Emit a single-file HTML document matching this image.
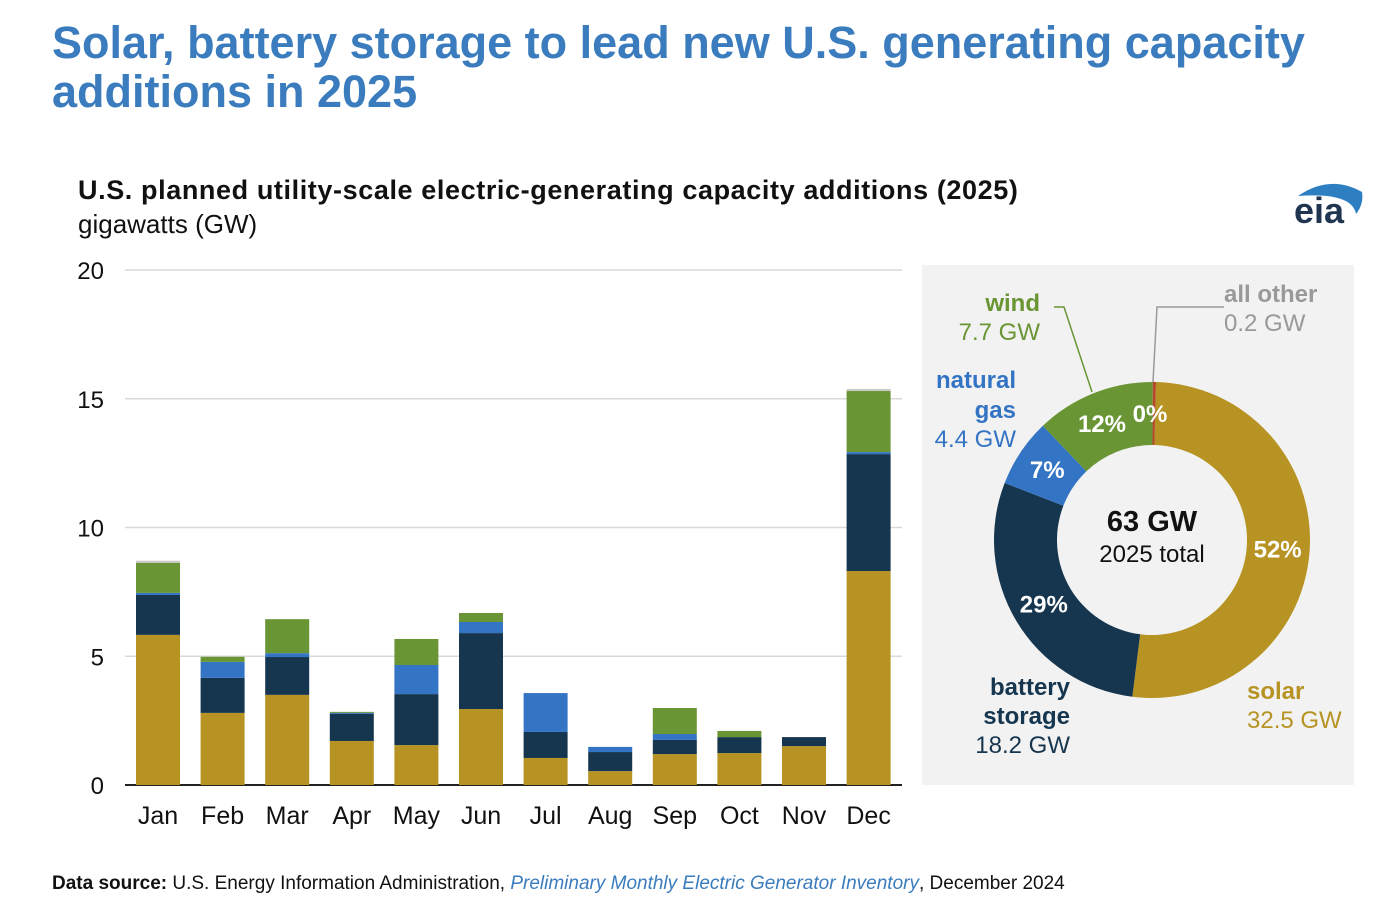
<!DOCTYPE html>
<html><head><meta charset="utf-8">
<style>
body{margin:0;width:1395px;height:917px;background:#fff;font-family:"Liberation Sans",sans-serif;overflow:hidden;position:relative}
.t{position:absolute;white-space:nowrap}
</style></head><body>
<div class="t" style="left:52px;top:18px;font-size:45px;font-weight:bold;color:#3a7cbd;line-height:49px">Solar, battery storage to lead new U.S. generating capacity<br>additions in 2025</div>
<div class="t" style="left:78px;top:175px;font-size:27px;font-weight:bold;color:#111;letter-spacing:0.6px">U.S. planned utility-scale electric-generating capacity additions (2025)</div>
<div class="t" style="left:78px;top:209px;font-size:26px;color:#111">gigawatts (GW)</div>
<div class="t" style="left:1294px;top:190px;font-size:36px;font-weight:bold;color:#1f3550">eia</div>
<svg class="t" style="left:1290px;top:174px" width="80" height="50"><path d="M8 22 Q40 0 72 18 Q74 30 66 40 Q62 18 8 22Z" fill="#2e7fc1"/></svg>
<svg id="chart" width="1395" height="917" style="position:absolute;left:0;top:0"></svg>
<div class="t" style="left:52px;top:873px;font-size:19px;color:#111"><b>Data source:</b> U.S. Energy Information Administration, <i style="color:#3a7cbd">Preliminary Monthly Electric Generator Inventory</i>, December 2024</div>
<script>
const months=["Jan","Feb","Mar","Apr","May","Jun","Jul","Aug","Sep","Oct","Nov","Dec"];
const solar=[5.83,2.8,3.5,1.71,1.55,2.95,1.05,0.54,1.2,1.24,1.51,8.31];
const battery=[1.55,1.36,1.47,1.05,1.98,2.95,1.01,0.74,0.55,0.62,0.35,4.54];
const gas=[0.08,0.62,0.15,0.04,1.13,0.43,1.51,0.2,0.23,0,0,0.08];
const wind=[1.17,0.2,1.32,0.04,1.01,0.35,0,0,1.01,0.24,0,2.37];
const other=[0.08,0,0,0,0,0,0,0,0,0,0,0.08];
const yTicks=[0,5,10,15,20];
const shareNames=["solar","battery","gas","wind","other"];
const shareVals=[32.5,18.2,4.4,7.7,0.2];
const shareLabels=["52%","29%","7%","12%","0%"];
const colors={solar:"#b79323",battery:"#16364f",gas:"#3474c4",wind:"#6a9535",other:"#c9c9c9"};
const NS="http://www.w3.org/2000/svg";
const svg=document.getElementById('chart');
function el(t,a,p){const e=document.createElementNS(NS,t);for(const k in a)e.setAttribute(k,a[k]);(p||svg).appendChild(e);return e;}
const y=v=>785-v*25.75, x=i=>158+i*64.6;
yTicks.forEach(v=>{
 const l=el('line',{x1:125,x2:902,y1:y(v),y2:y(v),stroke:v?'#d9d9d9':'#222','stroke-width':v?1.5:2});
 
 const t=el('text',{x:104,y:y(v)+9,'text-anchor':'end','font-size':24,fill:'#111'});t.textContent=v;
 
});
const series=[["solar",solar],["battery",battery],["gas",gas],["wind",wind],["other",other]];
months.forEach((m,i)=>{
 let base=0;
 series.forEach(([n,arr])=>{
  const v=arr[i];if(v<=0)return;
  const r=el('rect',{x:x(i)-22,y:y(base+v),width:44,height:v*25.75,fill:colors[n]});
  
  base+=v;
 });
 const t=el('text',{x:x(i),y:824,'text-anchor':'middle','font-size':25,fill:'#111'});t.textContent=m;
 
});
const p=el('rect',{x:922,y:265,width:432,height:520,fill:'#f2f2f2'});

const cx=1152,cy=540,R=158,r0=95,tot=shareVals.reduce((a,b)=>a+b,0);
const donutColors={solar:"#b79323",battery:"#16364f",gas:"#3474c4",wind:"#6a9535",other:"#b5472b"};
let a0=0.004*2*Math.PI;
shareVals.forEach((v,i)=>{
 const a1=a0+v/tot*2*Math.PI;
 const P=(r,a)=>[cx+r*Math.sin(a),cy-r*Math.cos(a)];
 const lg=(a1-a0)>Math.PI?1:0;
 const [x1,y1]=P(R,a0),[x2,y2]=P(R,a1),[x3,y3]=P(r0,a1),[x4,y4]=P(r0,a0);
 const s=el('path',{d:`M${x1},${y1}A${R},${R} 0 ${lg} 1 ${x2},${y2}L${x3},${y3}A${r0},${r0} 0 ${lg} 0 ${x4},${y4}Z`,fill:donutColors[shareNames[i]]});
 
 const am=(a0+a1)/2;
 let [lx,ly]=P(126,am);
 if(i==4){lx=1150;ly=414;}
 if(i==3){lx=1102;ly=424;}
 const t=el('text',{x:lx,y:ly+8,'text-anchor':'middle','font-size':24,'font-weight':'bold',fill:'#fff'});t.textContent=shareLabels[i];
 
 a0=a1;
});
[[1152,531,'63 GW',29,'bold','#111','donut-total'],[1152,562,'2025 total',24,'normal','#111','donut-total-caption'],
 [1040,311,'wind',24,'bold','#6a9535','label-wind'],[1040,340,'7.7 GW',24,'normal','#6a9535','label-wind-gw'],
 [1016,388,'natural',24,'bold','#3474c4','label-gas'],[1016,418,'gas',24,'bold','#3474c4','label-gas2'],[1016,447,'4.4 GW',24,'normal','#3474c4','label-gas-gw'],
 [1070,695,'battery',24,'bold','#16364f','label-battery'],[1070,724,'storage',24,'bold','#16364f','label-battery2'],[1070,753,'18.2 GW',24,'normal','#16364f','label-battery-gw']
].forEach(d=>{const t=el('text',{x:d[0],y:d[1],'text-anchor':d[0]==1152?'middle':'end','font-size':d[3],'font-weight':d[4],fill:d[5]});t.textContent=d[2];
 });
[[1224,302,'all other',24,'bold','#999','label-other'],[1224,331,'0.2 GW',24,'normal','#999','label-other-gw'],
 [1247,699,'solar',24,'bold','#b79323','label-solar'],[1247,728,'32.5 GW',24,'normal','#b79323','label-solar-gw']
].forEach(d=>{const t=el('text',{x:d[0],y:d[1],'font-size':d[3],'font-weight':d[4],fill:d[5]});t.textContent=d[2];
 });
const l1=el('polyline',{points:'1054,307 1064,307 1092,392',fill:'none',stroke:'#6a9535','stroke-width':1.5});

const l2=el('polyline',{points:'1224,307 1157,307 1153,382',fill:'none',stroke:'#999','stroke-width':1.5});

</script>
</body></html>
